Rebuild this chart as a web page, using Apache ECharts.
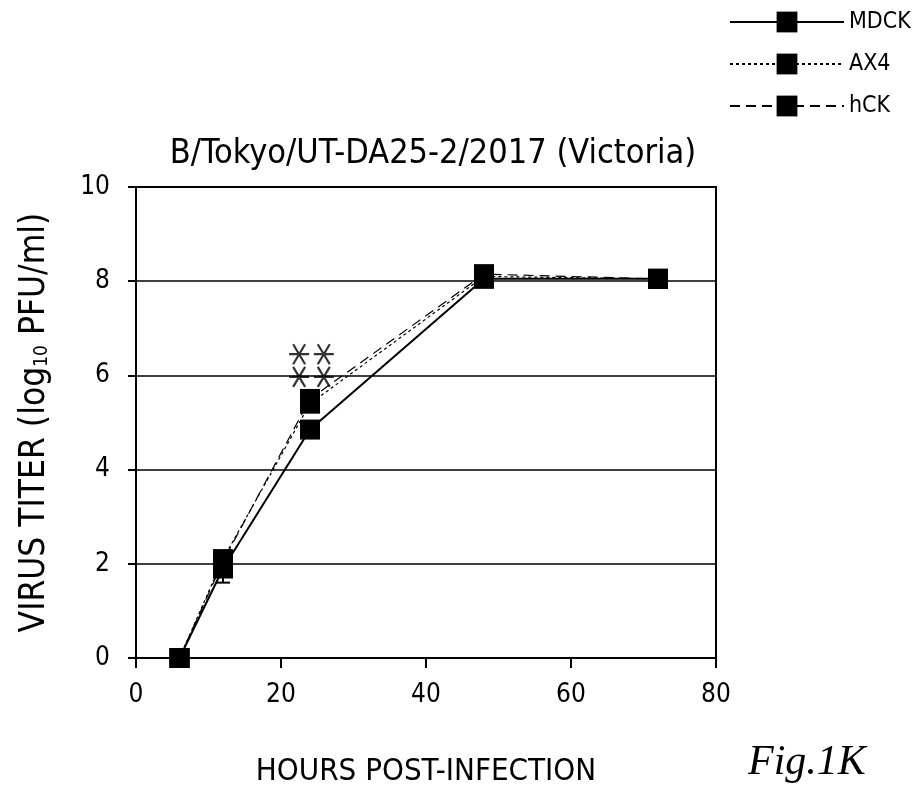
<!DOCTYPE html>
<html>
<head>
<meta charset="utf-8">
<script src="https://cdn.jsdelivr.net/npm/echarts@6/dist/echarts.min.js"></script>
<style>html,body{margin:0;padding:0;background:#fff}#c{width:915px;height:793px}</style>
</head>
<body>
<div id="c"></div>
<script>
var hours = [6, 12, 24, 48, 72];
var mdck = [0, 1.9, 4.85, 8.05, 8.05];
var ax4 = [0, 2.1, 5.4, 8.1, 8.05];
var hck = [0, 2.05, 5.5, 8.15, 8.05];
var errX = [12, 24];
var errLow = [1.6, 4.75];
var errHigh = [2.2, 4.95];
var starX = [22.5, 25.9, 22.5, 25.9];
var starY = [6.45, 6.45, 5.97, 5.97];
var seriesNames = ['MDCK', 'AX4', 'hCK'];
var xTicks = [0, 20, 40, 60, 80];
var yTicks = [0, 2, 4, 6, 8, 10];

var FONT = '"Liberation Sans Narrow","DejaVu Sans Condensed",sans-serif';
function pairs(xs, ys){ return xs.map(function(x,i){ return [x, ys[i]]; }); }

var chart = echarts.init(document.getElementById('c'));
var starPath = 'path://M0,10 L20,10 M4,1.5 L16,18.5 M4,18.5 L16,1.5';
chart.setOption({
  animation: false,
  backgroundColor: '#fff',
  title: {
    text: 'B/Tokyo/UT-DA25-2/2017 (Victoria)',
    left: 428, top: 132, textAlign: 'center',
    textStyle: { fontFamily: FONT, fontWeight: 'normal', fontSize: 34, color: '#000' }
  },
  legend: {
    data: seriesNames,
    orient: 'vertical', left: 724, top: 2,
    itemWidth: 114, itemHeight: 26, itemGap: 12,
    textStyle: { fontFamily: FONT, fontSize: 23, color: '#000', lineHeight: 30, padding: [0,0,0,0] }
  },
  grid: { left: 136, right: 199, top: 187, bottom: 135, show: true, borderColor: '#000', borderWidth: 2, backgroundColor: 'transparent' },
  xAxis: {
    type: 'value', min: xTicks[0], max: xTicks[xTicks.length-1], interval: 20,
    name: 'HOURS POST-INFECTION', nameLocation: 'middle', nameGap: 98,
    nameTextStyle: { fontFamily: FONT, fontSize: 31, color: '#000' },
    axisLine: { lineStyle: { color: '#000', width: 2 } },
    axisTick: { inside: false, length: 10, lineStyle: { color: '#000', width: 2 } },
    axisLabel: { fontFamily: FONT, fontSize: 26, color: '#000', margin: 24 },
    splitLine: { show: false }
  },
  yAxis: {
    type: 'value', min: yTicks[0], max: yTicks[yTicks.length-1], interval: 2,
    name: 'VIRUS TITER (log{s|10} PFU/ml)', nameLocation: 'middle', nameGap: 84,
    nameTextStyle: { fontFamily: FONT, fontSize: 35, color: '#000',
      rich: { s: { fontFamily: FONT, fontSize: 19, verticalAlign: 'bottom', padding: [16,0,0,0], color: '#000' } } },
    axisLine: { lineStyle: { color: '#000', width: 2 } },
    axisTick: { inside: false, length: 8, lineStyle: { color: '#000', width: 2 } },
    axisLabel: { fontFamily: FONT, fontSize: 26, color: '#000', margin: 26 },
    splitLine: { show: true, lineStyle: { color: '#000', width: 1.5 } }
  },
  series: [
    { name: 'hCK', type: 'line', data: pairs(hours, hck), symbol: 'rect', symbolSize: 20,
      itemStyle: { color: '#000' }, lineStyle: { color: '#000', width: 1.2, type: [10, 6] }, z: 2 },
    { name: 'AX4', type: 'line', data: pairs(hours, ax4), symbol: 'rect', symbolSize: 20,
      itemStyle: { color: '#000' }, lineStyle: { color: '#000', width: 1.2, type: [3, 3] }, z: 3 },
    { name: 'MDCK', type: 'line', data: pairs(hours, mdck), symbol: 'rect', symbolSize: 20,
      itemStyle: { color: '#000' }, lineStyle: { color: '#000', width: 2 }, z: 4 },
    { name: 'err', type: 'custom', z: 1,
      data: errX.map(function(x,i){ return [x, errLow[i], errHigh[i]]; }),
      renderItem: function(params, api){
        var lo = api.coord([api.value(0), api.value(1)]);
        var hi = api.coord([api.value(0), api.value(2)]);
        var st = { stroke: '#000', lineWidth: 2 };
        return { type: 'group', children: [
          { type: 'line', shape: { x1: lo[0], y1: lo[1], x2: hi[0], y2: hi[1] }, style: st },
          { type: 'line', shape: { x1: lo[0]-7, y1: lo[1], x2: lo[0]+7, y2: lo[1] }, style: st },
          { type: 'line', shape: { x1: hi[0]-7, y1: hi[1], x2: hi[0]+7, y2: hi[1] }, style: st }
        ]};
      }
    },
    { name: 'sig', type: 'scatter', data: pairs(starX, starY), symbol: starPath, symbolSize: 20,
      itemStyle: { color: 'rgba(0,0,0,0)', borderColor: '#000', borderWidth: 2.2 }, z: 5 }
  ],
  graphic: [
    { type: 'text', left: 748, top: 742,
      style: { text: 'Fig.1K', font: 'italic 42px "Liberation Serif","DejaVu Serif",serif', fill: '#000' } }
  ]
});
</script>
</body>
</html>
